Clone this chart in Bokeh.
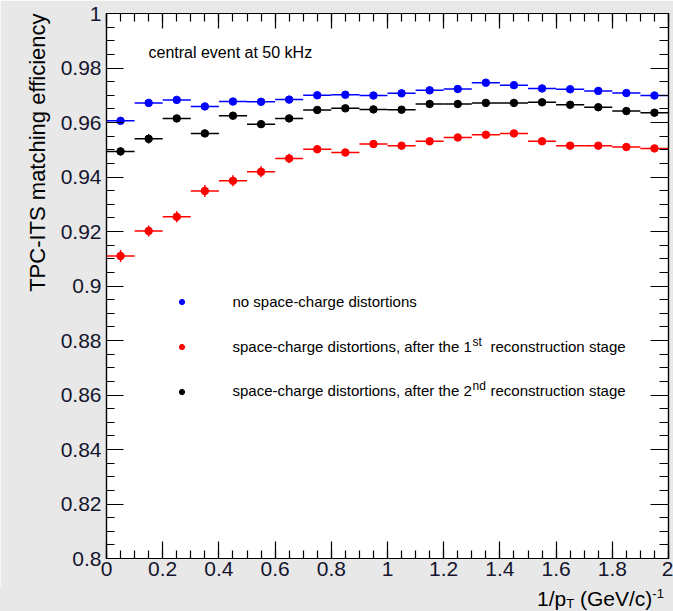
import numpy as np
from bokeh.plotting import figure
from bokeh.layouts import column
from bokeh.models import (ColumnDataSource, LinearAxis, FixedTicker, CustomJSTickFormatter,
                          Label, Legend, LegendItem, Range1d, Title, Div)
from bokeh.embed import file_html
from bokeh.resources import INLINE

# ---------------- data ----------------
inv_pt = [0.05, 0.15, 0.25, 0.35, 0.45, 0.55, 0.65, 0.75, 0.85, 0.95,
          1.05, 1.15, 1.25, 1.35, 1.45, 1.55, 1.65, 1.75, 1.85, 1.95]
bin_half_width = 0.05

eff_no_distortion = [0.9606, 0.9672, 0.9683, 0.9659, 0.9677, 0.9676, 0.9684, 0.9700, 0.9702, 0.9699,
                     0.9707, 0.9718, 0.9723, 0.9746, 0.9737, 0.9725, 0.9722, 0.9716, 0.9708, 0.9699]
err_no_distortion = [0.0010] * 20

eff_stage1 = [0.9110, 0.9202, 0.9254, 0.9349, 0.9386, 0.9419, 0.9468, 0.9502, 0.9490, 0.9521,
              0.9515, 0.9531, 0.9545, 0.9555, 0.9560, 0.9531, 0.9515, 0.9515, 0.9510, 0.9505]
err_stage1 = [0.0022, 0.0020, 0.0020, 0.0022, 0.0020, 0.0020, 0.0017, 0.0015, 0.0014, 0.0013,
              0.0013, 0.0012, 0.0012, 0.0012, 0.0012, 0.0012, 0.0012, 0.0012, 0.0012, 0.0012]

eff_stage2 = [0.9494, 0.9540, 0.9615, 0.9560, 0.9625, 0.9594, 0.9615, 0.9646, 0.9652, 0.9648,
              0.9647, 0.9668, 0.9668, 0.9672, 0.9672, 0.9674, 0.9665, 0.9656, 0.9642, 0.9636]
err_stage2 = [0.0015, 0.0017, 0.0012, 0.0012, 0.0012, 0.0011, 0.0010, 0.0010, 0.0010, 0.0010,
              0.0010, 0.0010, 0.0010, 0.0010, 0.0010, 0.0010, 0.0010, 0.0010, 0.0010, 0.0010]

x_major_ticks = [0, 0.2, 0.4, 0.6, 0.8, 1.0, 1.2, 1.4, 1.6, 1.8, 2.0]
y_major_ticks = [0.8, 0.82, 0.84, 0.86, 0.88, 0.9, 0.92, 0.94, 0.96, 0.98, 1.0]

legend_text_1 = "no space-charge distortions"
legend_text_2 = "space-charge distortions, after the 1"
legend_text_3 = "space-charge distortions, after the 2"
sup_2 = "st"
sup_3 = "nd"
legend_tail = "reconstruction stage"
note_text = "central event at 50 kHz"
y_title = "TPC-ITS matching efficiency"
x_title_main, x_title_sub, x_title_rest, x_title_sup = "1/p", "T", " (GeV/c)", "-1"

FONT = "Liberation Sans"
TICK_COLOR = "#15152e"
BG = "#e8e8e8"

x_minor = [round(v, 3) for v in np.arange(0, 2.0001, 0.05)]
y_minor = [round(v, 4) for v in np.arange(0.8, 1.00001, 0.005)]

p = figure(width=673, height=586, x_range=Range1d(0, 2), y_range=Range1d(0.8, 1.0),
           output_backend="svg", toolbar_location=None,
           min_border_left=106, min_border_right=5, min_border_top=13, min_border_bottom=28,
           background_fill_color="white", border_fill_color=BG,
           outline_line_color="black", outline_line_width=1.2)
p.xgrid.visible = False
p.ygrid.visible = False

fmt = CustomJSTickFormatter(code="return Number(tick.toFixed(3)).toString();")
blank_fmt = CustomJSTickFormatter(code="return '';")

def style_axis(ax, ticks, minor, tick_in, minor_in, show_labels):
    ax.ticker = FixedTicker(ticks=ticks, minor_ticks=minor)
    ax.axis_line_color = "black"
    ax.axis_line_width = 1.2
    ax.major_tick_line_color = "black"
    ax.minor_tick_line_color = "black"
    ax.major_tick_line_width = 1.2
    ax.minor_tick_line_width = 1.2
    ax.major_tick_in = tick_in
    ax.major_tick_out = 0
    ax.minor_tick_in = minor_in
    ax.minor_tick_out = 0
    ax.axis_label = None
    if show_labels:
        ax.formatter = fmt
        ax.major_label_text_font = FONT
        ax.major_label_text_font_size = "21px"
        ax.major_label_text_color = TICK_COLOR
    else:
        ax.formatter = blank_fmt
        ax.major_label_text_font_size = "0px"
        ax.major_label_standoff = 0

style_axis(p.xaxis[0], x_major_ticks, x_minor, 17, 8, True)
p.xaxis[0].major_label_standoff = 3
style_axis(p.yaxis[0], y_major_ticks, y_minor, 17, 8, True)
p.yaxis[0].major_label_standoff = 5

top_ax = LinearAxis()
style_axis(top_ax, x_major_ticks, x_minor, 15, 8, False)
p.add_layout(top_ax, "above")
right_ax = LinearAxis()
style_axis(right_ax, y_major_ticks, y_minor, 18, 9, False)
p.add_layout(right_ax, "right")

# y-axis title, aligned to the top end like ROOT
p.add_layout(Title(text=y_title, align="right", text_font=FONT, text_font_size="22px",
                   text_font_style="normal", text_color="black", standoff=16, offset=0), "left")

def series(eff, err, color):
    src = ColumnDataSource(dict(
        x=inv_pt, y=eff,
        xl=[v - bin_half_width for v in inv_pt], xr=[v + bin_half_width for v in inv_pt],
        ylo=[a - b for a, b in zip(eff, err)], yhi=[a + b for a, b in zip(eff, err)]))
    p.segment(x0="xl", y0="y", x1="xr", y1="y", source=src, line_color=color, line_width=1.5)
    p.segment(x0="x", y0="ylo", x1="x", y1="yhi", source=src, line_color=color, line_width=1.5)
    return p.scatter(x="x", y="y", source=src, size=7.5, marker="circle",
                     fill_color=color, line_color=color)

r_blue = series(eff_no_distortion, err_no_distortion, "#0000ff")
r_red = series(eff_stage1, err_stage1, "#ff0000")
r_black = series(eff_stage2, err_stage2, "#000000")

legend = Legend(items=[LegendItem(label=" ", renderers=[r_blue]),
                       LegendItem(label=" ", renderers=[r_red]),
                       LegendItem(label=" ", renderers=[r_black])],
                location=(68.5, 160.5), orientation="vertical",
                glyph_width=13, glyph_height=13, label_height=13, label_width=1,
                label_standoff=0, spacing=32, padding=0, margin=0,
                border_line_alpha=0, background_fill_alpha=0,
                label_text_font_size="1px")
p.add_layout(legend)

def lab(text, x, y, size, baseline="middle", align="left", angle=0.0, color="black"):
    p.add_layout(Label(x=x, y=y, x_units="screen", y_units="screen", text=text,
                       text_font=FONT, text_font_size=size, text_color=color,
                       text_baseline=baseline, text_align=align, angle=angle))

# legend texts
lab(legend_text_1, 126, 257, "15px")
lab(legend_text_2, 126, 212, "15px")
lab(sup_2, 366, 217, "12px")
lab(legend_tail, 384, 212, "15px")
lab(legend_text_3, 126, 168, "15px")
lab(sup_3, 366, 173, "12px")
lab(legend_tail, 384, 168, "15px")

# note
lab(note_text, 42, 506, "16px")

# x-axis title below the figure (sub/superscripts)
x_title_html = (
    '<div style="margin-left:537px; white-space:nowrap; font-family:\'Liberation Sans\'; '
    'color:black; line-height:25px; height:25px; font-size:21px;">'
    f'{x_title_main}<span style="font-size:13px; position:relative; top:2px;">{x_title_sub}</span>'
    f'{x_title_rest}<span style="font-size:13px; position:relative; top:-8px;">{x_title_sup}</span></div>'
)
div = Div(text=x_title_html, width=673, height=25,
          styles={"background-color": BG, "margin": "0", "padding": "0", "overflow": "hidden"})

layout = column(p, div, spacing=0)
open("out.html", "w").write(file_html(layout, INLINE))
